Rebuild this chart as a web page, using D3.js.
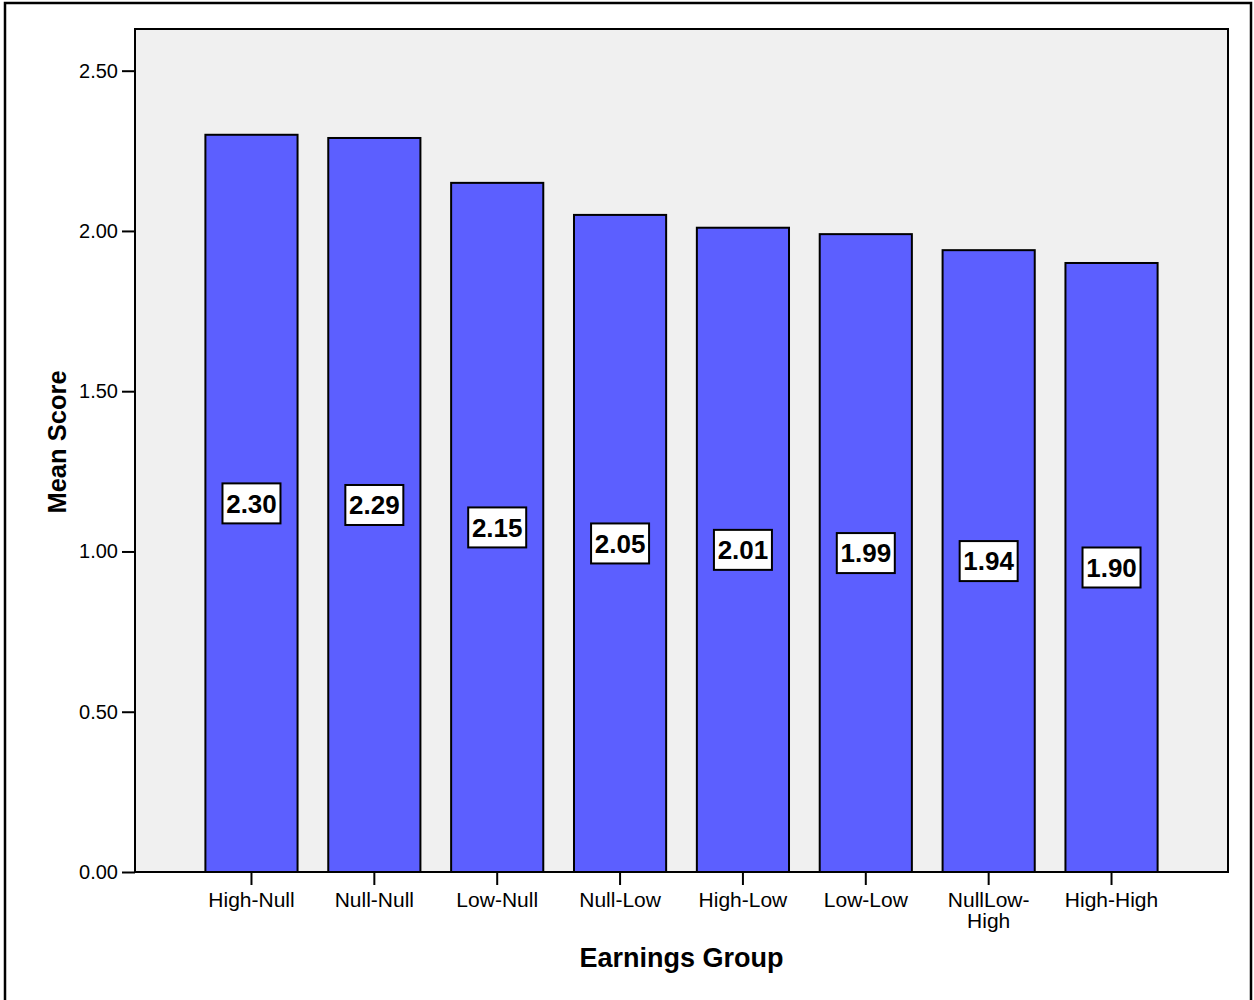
<!DOCTYPE html>
<html>
<head>
<meta charset="utf-8">
<script src="https://cdn.jsdelivr.net/npm/d3@7"></script>
<style>
  html, body { margin: 0; padding: 0; background: #fff; }
  svg { display: block; font-family: "Liberation Sans", Arial, sans-serif; }
</style>
</head>
<body>
<svg id="chart" width="1254" height="1000"></svg>
<script>
// Mean score by earnings group
const categories = ["High-Null", "Null-Null", "Low-Null", "Null-Low", "High-Low", "Low-Low", "NullLow-High", "High-High"];
const meanScores = [2.30, 2.29, 2.15, 2.05, 2.01, 1.99, 1.94, 1.90];
const yTicks = [0, 0.5, 1.0, 1.5, 2.0, 2.5];
const yMax = 2.63;

const svg = d3.select("#chart");

// outer frame
svg.append("rect")
  .attr("x", 5).attr("y", 3)
  .attr("width", 1246).attr("height", 1010)
  .attr("fill", "none").attr("stroke", "#000").attr("stroke-width", 2.5);

const plot = { left: 135, right: 1228, top: 29, bottom: 872 };

const x = d3.scaleBand()
  .domain(categories)
  .range([plot.left, plot.right])
  .paddingInner(0.25)
  .paddingOuter(0.573);

const y = d3.scaleLinear()
  .domain([0, yMax])
  .range([plot.bottom, plot.top]);

// plot background
svg.append("rect")
  .attr("x", plot.left).attr("y", plot.top)
  .attr("width", plot.right - plot.left).attr("height", plot.bottom - plot.top)
  .attr("fill", "#f0f0f0");

// bars
svg.append("g").selectAll("rect")
  .data(meanScores)
  .join("rect")
  .attr("x", (d, i) => x(categories[i]))
  .attr("y", d => y(d))
  .attr("width", x.bandwidth())
  .attr("height", d => y(0) - y(d))
  .attr("fill", "#5c5fff")
  .attr("stroke", "#000")
  .attr("stroke-width", 2);

// plot frame
svg.append("rect")
  .attr("x", plot.left).attr("y", plot.top)
  .attr("width", plot.right - plot.left).attr("height", plot.bottom - plot.top)
  .attr("fill", "none").attr("stroke", "#000").attr("stroke-width", 2);

// y axis
const yAxis = svg.append("g")
  .attr("transform", `translate(${plot.left},0)`)
  .call(d3.axisLeft(y).tickValues(yTicks).tickFormat(d3.format(".2f")).tickSize(13).tickPadding(4));
yAxis.select(".domain").remove();
yAxis.selectAll(".tick line").attr("stroke", "#000").attr("stroke-width", 2);
yAxis.selectAll(".tick text")
  .attr("font-size", 20).attr("fill", "#000")
  .style("font-family", "'Liberation Sans', Arial, sans-serif");

// x axis
const xAxis = svg.append("g")
  .attr("transform", `translate(0,${plot.bottom})`)
  .call(d3.axisBottom(x).tickSize(13).tickPadding(7));
xAxis.select(".domain").remove();
xAxis.selectAll(".tick line").attr("stroke", "#000").attr("stroke-width", 2);
xAxis.selectAll(".tick text")
  .attr("font-size", 21).attr("fill", "#000")
  .style("font-family", "'Liberation Sans', Arial, sans-serif")
  .each(function(d) {
    const t = d3.select(this);
    if (this.getComputedTextLength() > 110 && d.includes("-")) {
      const cut = d.indexOf("-") + 1;
      const parts = [d.slice(0, cut), d.slice(cut)];
      const dy = t.attr("dy");
      t.text(null);
      parts.forEach((p, k) => {
        t.append("tspan")
          .attr("x", 0)
          .attr("dy", k === 0 ? dy : "1.0em")
          .text(p);
      });
    }
  });

// value labels in boxes at mid-bar
const labels = svg.append("g").selectAll("g")
  .data(meanScores)
  .join("g")
  .attr("transform", (d, i) => `translate(${x(categories[i]) + x.bandwidth() / 2},${y(d / 2)})`);
labels.append("rect")
  .attr("x", -29).attr("y", -20)
  .attr("width", 58).attr("height", 40)
  .attr("fill", "#fff").attr("stroke", "#000").attr("stroke-width", 2);
labels.append("text")
  .attr("text-anchor", "middle")
  .attr("dy", "0.36em")
  .attr("font-size", 26)
  .attr("font-weight", "bold")
  .attr("fill", "#000")
  .text(d => d3.format(".2f")(d));

// axis titles
svg.append("text")
  .attr("x", (plot.left + plot.right) / 2).attr("y", 967)
  .attr("text-anchor", "middle")
  .attr("font-size", 27).attr("font-weight", "bold")
  .text("Earnings Group");

svg.append("text")
  .attr("transform", `translate(66,442) rotate(-90)`)
  .attr("text-anchor", "middle")
  .attr("font-size", 25.5).attr("font-weight", "bold")
  .text("Mean Score");
</script>
</body>
</html>
